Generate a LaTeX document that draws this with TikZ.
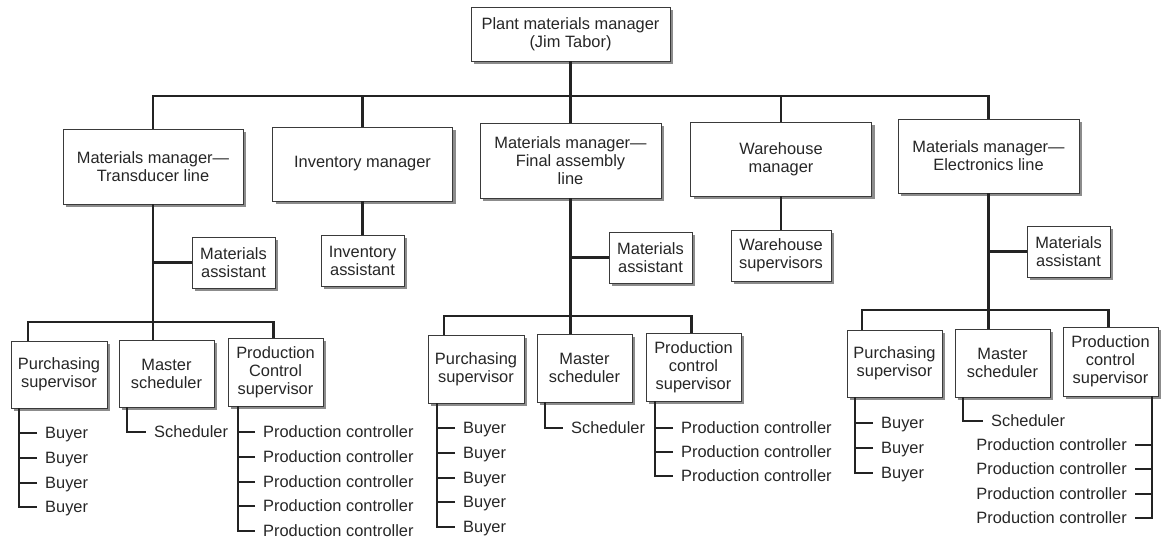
\documentclass[tikz,border=0pt]{standalone}
\usepackage{fontspec}
\setmainfont{Liberation Sans}
\usetikzlibrary{shadows}
\definecolor{linec}{HTML}{232323}
\definecolor{boxc}{HTML}{3A3A3A}
\definecolor{shadc}{HTML}{8C8C8C}
\definecolor{txtc}{HTML}{262626}
\tikzset{
  orgbox/.style={draw=boxc, line width=0.9pt, fill=white, align=center, inner sep=0pt,
    font=\fontsize{16.4}{18}\selectfont, text=txtc,
    drop shadow={shadow xshift=3pt, shadow yshift=-3pt, fill=shadc, opacity=1}},
  conn/.style={draw=linec, line width=2.2pt},
  leafL/.style={anchor=west, inner xsep=8pt, inner ysep=0pt, text height=11.7pt, text depth=0pt,
    font=\fontsize{16.4}{18}\selectfont, text=txtc},
  leafR/.style={leafL, anchor=east},
}
\begin{document}
\begin{tikzpicture}[x=1pt,y=-1pt]
\useasboundingbox (0,0) rectangle (1161,542);
% level 0 and 1
\node[orgbox, minimum width=199pt, minimum height=54pt] (top) at (570.5,34) {Plant materials manager\\(Jim Tabor)};
\node[orgbox, minimum width=180pt, minimum height=75pt] (trans) at (153,166.5) {Materials manager---\\Transducer line};
\node[orgbox, minimum width=180pt, minimum height=74pt] (inv) at (362.5,164) {Inventory manager};
\node[orgbox, minimum width=181pt, minimum height=75pt] (final) at (570.5,160.5) {Materials manager---\\Final assembly\\line};
\node[orgbox, minimum width=181pt, minimum height=74pt] (ware) at (781,159) {Warehouse\\manager};
\node[orgbox, minimum width=181pt, minimum height=74pt] (elec) at (988.5,156) {Materials manager---\\Electronics line};
% assistants
\node[orgbox, minimum width=83pt, minimum height=51pt] (ma1) at (233.5,262.5) {Materials\\assistant};
\node[orgbox, minimum width=83pt, minimum height=51pt] (invasst) at (362.5,260.5) {Inventory\\assistant};
\node[orgbox, minimum width=83pt, minimum height=51pt] (ma2) at (650.5,257.5) {Materials\\assistant};
\node[orgbox, minimum width=100pt, minimum height=51pt] (wsup) at (781,255.5) {Warehouse\\supervisors};
\node[orgbox, minimum width=83pt, minimum height=51pt] (ma3) at (1068.5,251.5) {Materials\\assistant};
% level 3 left
\node[orgbox, minimum width=96pt, minimum height=67pt] (purch1) at (59,374.5) {Purchasing\\supervisor};
\node[orgbox, minimum width=95pt, minimum height=67pt] (master1) at (166.5,373.5) {Master\\scheduler};
\node[orgbox, minimum width=95pt, minimum height=68pt] (pc1) at (275.5,372) {Production\\Control\\supervisor};
% level 3 middle
\node[orgbox, minimum width=96pt, minimum height=68pt] (purch2) at (476,369) {Purchasing\\supervisor};
\node[orgbox, minimum width=95pt, minimum height=68pt] (master2) at (584.5,368) {Master\\scheduler};
\node[orgbox, minimum width=95pt, minimum height=68pt] (pc2) at (693.5,367) {Production\\control\\supervisor};
% level 3 right
\node[orgbox, minimum width=95pt, minimum height=67pt] (purch3) at (894.5,363.5) {Purchasing\\supervisor};
\node[orgbox, minimum width=95pt, minimum height=68pt] (master3) at (1002.5,363) {Master\\scheduler};
\node[orgbox, minimum width=95pt, minimum height=69pt] (pc3) at (1110.5,361.5) {Production\\control\\supervisor};

% connectors level 1
\coordinate (bus1) at (570.5,96);
\draw[conn] (top.south) -- (final.north);
\draw[conn] (trans.north) |- (bus1) -| (elec.north);
\draw[conn] (inv.north) -- (inv.north |- bus1);
\draw[conn] (ware.north) -- (ware.north |- bus1);
\draw[conn] (inv.south) -- (invasst.north);
\draw[conn] (ware.south) -- (wsup.north);

% left branch
\coordinate (bus2a) at (153,322);
\draw[conn] (trans.south) -- (trans.south |- master1.north);
\draw[conn] (ma1.west) -- (ma1.west -| trans.south);
\draw[conn] ([xshift=-31pt]purch1.north) |- (bus2a) -| ([xshift=-2pt]pc1.north);
% middle branch
\coordinate (bus2b) at (570.5,316);
\draw[conn] (final.south) -- (final.south |- master2.north);
\draw[conn] (ma2.west) -- (ma2.west -| final.south);
\draw[conn] ([xshift=-32pt]purch2.north) |- (bus2b) -| ([xshift=-2pt]pc2.north);
% right branch
\coordinate (bus2c) at (988.5,310);
\draw[conn] (elec.south) -- (elec.south |- master3.north);
\draw[conn] (ma3.west) -- (ma3.west -| elec.south);
\draw[conn] ([xshift=-32.5pt]purch3.north) |- (bus2c) -| ([xshift=-2pt]pc3.north);

% leaves left
\node[leafL] (b11) at (37,433) {Buyer};
\node[leafL] (b12) at (37,458) {Buyer};
\node[leafL] (b13) at (37,483) {Buyer};
\node[leafL] (b14) at (37,507) {Buyer};
\draw[conn] ([xshift=-40pt]purch1.south) |- (b14.west);
\foreach \n in {b11,b12,b13} \draw[conn] (\n.west) -- ++(-18,0);
\node[leafL] (s1) at (146,432) {Scheduler};
\draw[conn] ([xshift=-39.5pt]master1.south) |- (s1.west);
\node[leafL] (p11) at (255,432) {Production controller};
\node[leafL] (p12) at (255,457) {Production controller};
\node[leafL] (p13) at (255,482) {Production controller};
\node[leafL] (p14) at (255,506) {Production controller};
\node[leafL] (p15) at (255,531) {Production controller};
\draw[conn] ([xshift=-37.5pt]pc1.south) |- (p15.west);
\foreach \n in {p11,p12,p13,p14} \draw[conn] (\n.west) -- ++(-17,0);

% leaves middle
\node[leafL] (b21) at (455,428) {Buyer};
\node[leafL] (b22) at (455,453) {Buyer};
\node[leafL] (b23) at (455,478) {Buyer};
\node[leafL] (b24) at (455,502) {Buyer};
\node[leafL] (b25) at (455,527) {Buyer};
\draw[conn] ([xshift=-39pt]purch2.south) |- (b25.west);
\foreach \n in {b21,b22,b23,b24} \draw[conn] (\n.west) -- ++(-18,0);
\node[leafL] (s2) at (563,428) {Scheduler};
\draw[conn] ([xshift=-39.5pt]master2.south) |- (s2.west);
\node[leafL] (p21) at (673,428) {Production controller};
\node[leafL] (p22) at (673,452) {Production controller};
\node[leafL] (p23) at (673,476) {Production controller};
\draw[conn] ([xshift=-38.5pt]pc2.south) |- (p23.west);
\foreach \n in {p21,p22} \draw[conn] (\n.west) -- ++(-18,0);

% leaves right
\node[leafL] (b31) at (873,423) {Buyer};
\node[leafL] (b32) at (873,448) {Buyer};
\node[leafL] (b33) at (873,473) {Buyer};
\draw[conn] ([xshift=-39.5pt]purch3.south) |- (b33.west);
\foreach \n in {b31,b32} \draw[conn] (\n.west) -- ++(-18,0);
\node[leafL] (s3) at (983,421) {Scheduler};
\draw[conn] ([xshift=-39.5pt]master3.south) |- (s3.west);
\node[leafR] (p31) at (1135,445) {Production controller};
\node[leafR] (p32) at (1135,469) {Production controller};
\node[leafR] (p33) at (1135,494) {Production controller};
\node[leafR] (p34) at (1135,518) {Production controller};
\draw[conn] ([xshift=41.5pt]pc3.south) |- (p34.east);
\foreach \n in {p31,p32,p33} \draw[conn] (\n.east) -- ++(17,0);
\end{tikzpicture}
\end{document}
